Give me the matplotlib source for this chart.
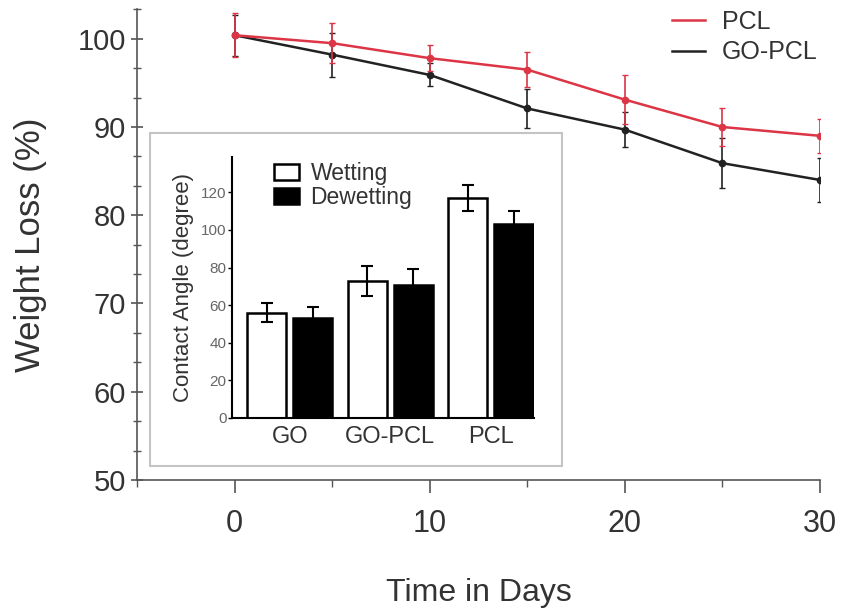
import numpy as np
import matplotlib.pyplot as plt
from matplotlib.patches import Rectangle
from matplotlib.lines import Line2D
from matplotlib.ticker import MultipleLocator

plt.rcParams["font.family"] = ["Liberation Sans", "DejaVu Sans"]

TXT = "#333333"
RED = "#dc3545"

# weight loss over time
days = [0, 5, 10, 15, 20, 25, 30]
pcl = [100.4, 99.5, 97.8, 96.5, 93.1, 90.0, 89.0]
pcl_err = [2.5, 2.3, 1.5, 2.0, 2.8, 2.2, 1.9]
gopcl = [100.4, 98.2, 95.9, 92.1, 89.7, 85.9, 84.0]
gopcl_err = [2.3, 2.5, 1.3, 2.2, 2.0, 2.8, 2.5]

# contact angle inset
samples = ["GO", "GO-PCL", "PCL"]
wetting = [56, 73, 117]
wetting_err = [5, 8, 6.7]
dewetting = [53, 71, 103]
dewetting_err = [6, 8.5, 7]

fig = plt.figure(figsize=(8.41, 6.12), dpi=100)
ax = fig.add_axes([0.163, 0.2157, 0.812, 0.77])

ax.errorbar(days, pcl, yerr=pcl_err, color=RED, lw=1.8, marker="o", ms=4.5,
            capsize=2, elinewidth=1.2, label="PCL", zorder=3)
ax.errorbar(days, gopcl, yerr=gopcl_err, color="#222222", lw=1.8, marker="o", ms=4.5,
            capsize=2, elinewidth=1.2, label="GO-PCL", zorder=2)

ax.set_xlim(-5, 30)
ax.set_ylim(50, 103.4)
ax.xaxis.set_major_locator(MultipleLocator(10))
ax.xaxis.set_minor_locator(MultipleLocator(5))
ax.yaxis.set_major_locator(MultipleLocator(10))
ax.yaxis.set_minor_locator(MultipleLocator(10 / 3))
for s in ["top", "right"]:
    ax.spines[s].set_visible(False)
for s in ["left", "bottom"]:
    ax.spines[s].set_color("#555555")
    ax.spines[s].set_linewidth(1.2)
ax.tick_params(axis="y", which="both", direction="inout", colors="#555555",
               labelcolor=TXT, labelsize=21)
ax.tick_params(axis="y", which="major", length=9, width=1.2)
ax.tick_params(axis="y", which="minor", length=6, width=1.0)
ax.tick_params(axis="x", which="both", direction="out", colors="#555555",
               labelcolor=TXT, labelsize=22, pad=12)
ax.tick_params(axis="x", which="major", length=9, width=1.2)
ax.tick_params(axis="x", which="minor", length=5, width=1.0)
ax.set_xlabel("Time in Days", fontsize=23, color=TXT, labelpad=28)
ax.set_ylabel("Weight Loss (%)", fontsize=25, color=TXT, labelpad=22)

handles = [Line2D([], [], color=RED, lw=1.8), Line2D([], [], color="#222222", lw=1.8)]
ax.legend(handles, ["PCL", "GO-PCL"], loc="upper right", frameon=False,
          fontsize=18, handlelength=1.3, handletextpad=0.7, labelcolor=TXT,
          bbox_to_anchor=(1.03, 1.045), labelspacing=0.25)

# inset frame
fig.patches.append(Rectangle((150 / 841, 1 - 466 / 612), 412 / 841, 333 / 612,
                             transform=fig.transFigure, fill=True, facecolor="white",
                             edgecolor="#c4c4c4", lw=1.5, zorder=5))

ins = fig.add_axes([0.2759, 0.317, 0.359, 0.427], zorder=6)
ins.patch.set_alpha(0)
x = np.arange(len(samples))
off = 0.228
w = 0.39
ins.bar(x - off, wetting, w, yerr=wetting_err, color="white", edgecolor="black",
        lw=1.8, capsize=4, error_kw=dict(elinewidth=1.5, capthick=1.5), label="Wetting")
ins.bar(x + off, dewetting, w, yerr=dewetting_err, color="black", edgecolor="black",
        lw=1.8, capsize=4, error_kw=dict(elinewidth=1.5, capthick=1.5), label="Dewetting")
ins.set_xlim(-0.575, 2.43)
ins.set_ylim(0, 139)
ins.set_yticks([0, 20, 40, 60, 80, 100, 120])
ins.set_xticks(x)
ins.set_xticklabels(samples)
for s in ["top", "right"]:
    ins.spines[s].set_visible(False)
for s in ["left", "bottom"]:
    ins.spines[s].set_linewidth(1.5)
ins.tick_params(axis="x", length=0, labelsize=17, labelcolor=TXT, pad=6)
ins.tick_params(axis="y", length=3, width=1, labelsize=11, labelcolor="#666666", pad=1)
ins.set_ylabel("Contact Angle (degree)", fontsize=16, color=TXT, labelpad=5)
ins.legend(loc="upper left", frameon=False, fontsize=16.5, handlelength=1.1,
           handleheight=0.7, handletextpad=0.5, labelspacing=0.05,
           bbox_to_anchor=(0.07, 1.06), labelcolor=TXT)

fig.savefig("out.png", dpi=100)
